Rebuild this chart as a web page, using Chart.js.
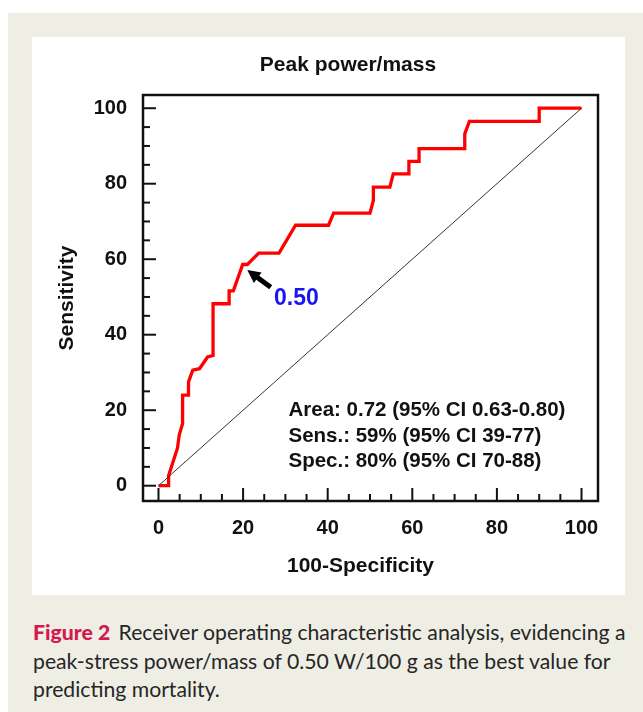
<!DOCTYPE html>
<html>
<head>
<meta charset="utf-8">
<script src="https://cdn.jsdelivr.net/npm/chart.js@4.4.1/dist/chart.umd.min.js"></script>
<style>
  html, body { margin: 0; padding: 0; background: #fff; }
  body { width: 643px; height: 712px; position: relative; overflow: hidden; }
  #box { position: absolute; left: 8px; top: 13px; width: 635px; height: 699px; background: #efeee5; }
  #panel { position: absolute; left: 32px; top: 37px; width: 593px; height: 558px; background: #fff; }
  #caption {
    position: absolute; left: 33px; top: 618px; width: 610px;
    font-family: Lato, "Open Sans", sans-serif; font-size: 21.2px; line-height: 28.5px;
    color: #262626; white-space: nowrap;
  }
  #caption b { color: #d3194d; font-weight: 900; margin-right: 3px; }
</style>
</head>
<body>
<div id="box"></div>
<div id="panel"><canvas id="roc" width="593" height="558"></canvas></div>
<div id="caption"><b>Figure 2</b> Receiver operating characteristic analysis, evidencing a<br>peak-stress power/mass of 0.50 W/100 g as the best value for<br>predicting mortality.</div>
<script>
const chartTitle = "Peak power/mass";
const xAxisTitle = "100-Specificity";
const yAxisTitle = "Sensitivity";
const xTickValues = [0, 20, 40, 60, 80, 100];
const yTickValues = [0, 20, 40, 60, 80, 100];

// ROC curve (100-specificity, sensitivity in %)
const rocX = [0, 2.4, 2.4, 4.5, 4.9, 5.7, 5.7, 7.1, 7.1, 8.1, 9.7, 11.6, 12.9, 12.9,
  16.7, 16.7, 17.7, 19.9, 21, 23.7, 28.5, 32.4, 40.2, 41.4, 50, 50.8, 50.8, 54.7,
  55.5, 59.2, 59.2, 61.6, 61.6, 72.4, 72.4, 73.5, 90, 90, 100];
const rocY = [0, 0, 2.7, 10, 13.4, 16.5, 24, 24, 27.5, 30.6, 31, 34.1, 34.5, 48.2,
  48.2, 51.6, 51.6, 58.6, 58.6, 61.6, 61.6, 69, 69, 72.2, 72.2, 75.6, 79.1, 79.1,
  82.6, 82.6, 85.9, 85.9, 89.3, 89.3, 93.2, 96.5, 96.5, 100, 100];

// chance line
const refX = [0, 100];
const refY = [0, 100];

// best cut-off (100-spec 20, sens 59)
const cutoffLabel = "0.50";
const cutoffPoint = [20, 59];

const statsLines = [
  "Area: 0.72 (95% CI 0.63-0.80)",
  "Sens.: 59% (95% CI 39-77)",
  "Spec.: 80% (95% CI 70-88)"
];

Chart.defaults.font.family = '"Liberation Sans", Arial, sans-serif';
Chart.defaults.color = "#111";

const decorations = {
  id: "decorations",
  afterDraw(chart) {
    const { ctx, chartArea: a, scales: { x, y } } = chart;
    ctx.save();

    // frame
    ctx.strokeStyle = "#111";
    ctx.lineWidth = 2.5;
    ctx.strokeRect(a.left, a.top, a.right - a.left, a.bottom - a.top);

    // ticks pointing inwards, major every 20, minor every 5
    ctx.lineWidth = 2;
    for (let v = 0; v <= 100; v += 5) {
      const len = v % 20 === 0 ? 13 : 7;
      const px = x.getPixelForValue(v);
      ctx.beginPath();
      ctx.moveTo(px, a.bottom);
      ctx.lineTo(px, a.bottom - len);
      ctx.stroke();
      const py = y.getPixelForValue(v);
      ctx.beginPath();
      ctx.moveTo(a.left, py);
      ctx.lineTo(a.left + len, py);
      ctx.stroke();
    }

    // title and x title
    ctx.fillStyle = "#111";
    ctx.textAlign = "center";
    ctx.textBaseline = "middle";
    ctx.font = 'bold 21px "Liberation Sans", Arial, sans-serif';
    ctx.fillText(chartTitle, a.left + 205, a.top - 30);
    ctx.fillText(xAxisTitle, a.left + 217.5, a.bottom + 65);

    // arrow to the cut-off
    const tipX = x.getPixelForValue(cutoffPoint[0]) + 4.2;
    const tipY = y.getPixelForValue(cutoffPoint[1]) + 7;
    const dx = 23.4, dy = 17.3;
    const L = Math.hypot(dx, dy);
    const ux = dx / L, uy = dy / L;
    const nx = -uy, ny = ux;
    ctx.fillStyle = "#000";
    ctx.beginPath();
    ctx.moveTo(tipX, tipY);
    ctx.lineTo(tipX + 13 * ux + 6.5 * nx, tipY + 13 * uy + 6.5 * ny);
    ctx.lineTo(tipX + 13 * ux - 6.5 * nx, tipY + 13 * uy - 6.5 * ny);
    ctx.closePath();
    ctx.fill();
    ctx.strokeStyle = "#000";
    ctx.lineWidth = 5;
    ctx.lineCap = "butt";
    ctx.beginPath();
    ctx.moveTo(tipX + 11 * ux, tipY + 11 * uy);
    ctx.lineTo(tipX + dx, tipY + dy);
    ctx.stroke();

    ctx.fillStyle = "#1616f2";
    ctx.textAlign = "left";
    ctx.font = 'bold 23px "Liberation Sans", Arial, sans-serif';
    ctx.fillText(cutoffLabel, tipX + dx + 3.3, tipY + dy + 11.4);

    // statistics box
    ctx.fillStyle = "#111";
    ctx.font = 'bold 20.5px "Liberation Sans", Arial, sans-serif';
    statsLines.forEach((t, i) => {
      ctx.fillText(t, a.left + 145.5, a.top + 315.7 + i * 25.3);
    });
    ctx.restore();
  }
};

new Chart(document.getElementById("roc"), {
  type: "line",
  data: {
    datasets: [
      {
        data: refX.map((v, i) => ({ x: v, y: refY[i] })),
        borderColor: "#333",
        borderWidth: 1,
        pointRadius: 0
      },
      {
        data: rocX.map((v, i) => ({ x: v, y: rocY[i] })),
        borderColor: "#ff0000",
        borderWidth: 3.3,
        borderJoinStyle: "miter",
        pointRadius: 0
      }
    ]
  },
  options: {
    responsive: false,
    animation: false,
    layout: { padding: { top: 58, right: 27, left: 0, bottom: 0 } },
    plugins: { legend: { display: false }, tooltip: { enabled: false } },
    scales: {
      x: {
        type: "linear",
        min: -3.66,
        max: 103.9,
        grid: { display: false, drawTicks: false },
        border: { display: false },
        afterBuildTicks: (s) => { s.ticks = xTickValues.map((v) => ({ value: v })); },
        afterFit: (s) => { s.height = 94; },
        ticks: { padding: 15, maxRotation: 0, autoSkip: false, color: "#111", font: { size: 20, weight: "bold" } }
      },
      y: {
        type: "linear",
        min: -4.05,
        max: 103.5,
        grid: { display: false, drawTicks: false },
        border: { display: false },
        afterBuildTicks: (s) => { s.ticks = yTickValues.map((v) => ({ value: v })); },
        afterFit: (s) => { s.width = 111; },
        ticks: { padding: 16, autoSkip: false, color: "#111", font: { size: 20, weight: "bold" } },
        title: {
          display: true,
          text: yAxisTitle,
          color: "#111",
          font: { size: 21, weight: "bold" },
          padding: { top: 23, bottom: 0 }
        }
      }
    }
  },
  plugins: [decorations]
});
</script>
</body>
</html>
